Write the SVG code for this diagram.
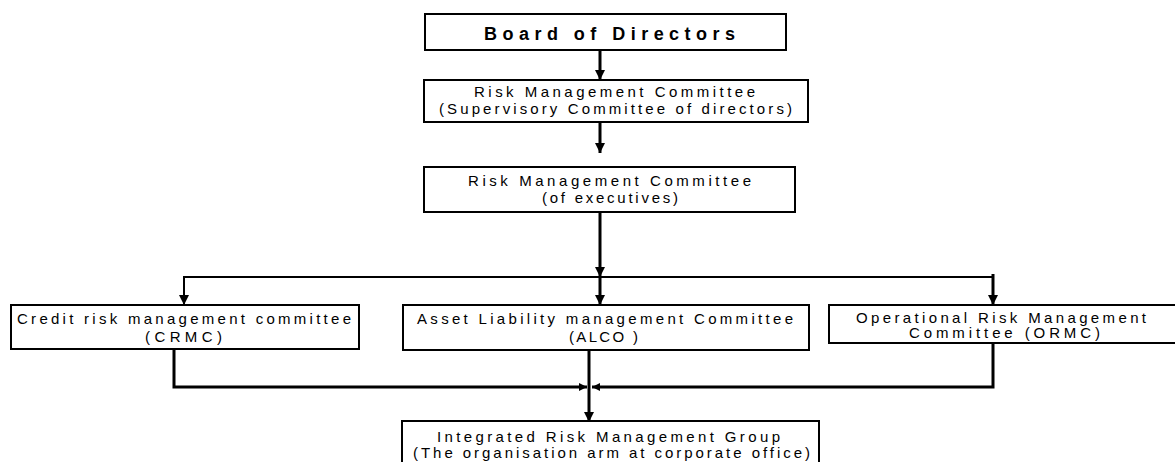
<svg xmlns="http://www.w3.org/2000/svg" width="1175" height="462" viewBox="0 0 1175 462">
<defs>
<style>
.box{fill:#fff;stroke:#000;stroke-width:2}
.t{font-family:"Liberation Sans",Arial,sans-serif;font-size:15px;fill:#000}
.b{font-family:"Liberation Sans",Arial,sans-serif;font-size:18px;font-weight:bold;fill:#000}
.c{fill:none;stroke:#000;stroke-width:3}
.c2{fill:none;stroke:#000;stroke-width:2}
</style>
<marker id="ah" viewBox="0 0 10 10" refX="10" refY="5" markerWidth="10" markerHeight="10" markerUnits="userSpaceOnUse" orient="auto">
<path d="M0,0 L10,5 L0,10 Z" fill="#000"/>
</marker>
<marker id="as" viewBox="0 0 10 10" refX="10" refY="5" markerWidth="9" markerHeight="8" markerUnits="userSpaceOnUse" orient="auto">
<path d="M0,0 L10,5 L0,10 Z" fill="#000"/>
</marker>
</defs>
<rect width="1175" height="462" fill="#fff"/>
<g id="connectors">
<line class="c" x1="600" y1="50" x2="600" y2="80" marker-end="url(#ah)"/>
<line class="c" x1="600" y1="122" x2="600" y2="153" marker-end="url(#ah)"/>
<line class="c" x1="600" y1="212" x2="600" y2="277" marker-end="url(#ah)"/>
<line class="c" x1="600" y1="277" x2="600" y2="305" marker-end="url(#ah)"/>
<line class="c2" x1="184" y1="277" x2="993" y2="277"/>
<line class="c2" x1="184" y1="276" x2="184" y2="305" marker-end="url(#ah)"/>
<line class="c" x1="993" y1="274" x2="993" y2="305" marker-end="url(#ah)"/>
<polyline class="c" points="174,349 174,387 587,387" marker-end="url(#as)"/>
<polyline class="c" points="993,343 993,387 592,387" marker-end="url(#as)"/>
<line class="c" x1="589" y1="350" x2="589" y2="422" marker-end="url(#ah)"/>
</g>
<g id="board">
<rect class="box" x="425" y="14" width="361" height="36"/>
<text class="b" x="484" y="40" textLength="251" lengthAdjust="spacing">Board of Directors</text>
</g>
<g id="rmc-directors">
<rect class="box" x="424" y="80" width="384" height="42"/>
<text class="t" x="474" y="97" textLength="281" lengthAdjust="spacing">Risk Management Committee</text>
<text class="t" x="439" y="114" textLength="353" lengthAdjust="spacing">(Supervisory Committee of directors)</text>
</g>
<g id="rmc-executives">
<rect class="box" x="424" y="167" width="371" height="45"/>
<text class="t" x="468" y="186" textLength="283" lengthAdjust="spacing">Risk Management Committee</text>
<text class="t" x="542" y="203" textLength="136" lengthAdjust="spacing">(of executives)</text>
</g>
<g id="crmc">
<rect class="box" x="11" y="305" width="348" height="44"/>
<text class="t" x="17" y="324" textLength="334" lengthAdjust="spacing">Credit risk management committee</text>
<text class="t" x="145" y="342" textLength="77" lengthAdjust="spacing">(CRMC)</text>
</g>
<g id="alco">
<rect class="box" x="403" y="305" width="406" height="45"/>
<text class="t" x="417" y="324" textLength="376" lengthAdjust="spacing">Asset Liability management Committee</text>
<text class="t" x="569" y="342" textLength="69" lengthAdjust="spacing">(ALCO )</text>
</g>
<g id="ormc">
<rect class="box" x="829" y="305" width="360" height="38"/>
<text class="t" x="856" y="323" textLength="290" lengthAdjust="spacing">Operational Risk Management</text>
<text class="t" x="909" y="338" textLength="191" lengthAdjust="spacing">Committee (ORMC)</text>
</g>
<g id="irmg">
<rect class="box" x="402" y="421" width="417" height="60"/>
<text class="t" x="437" y="442" textLength="343" lengthAdjust="spacing">Integrated Risk Management Group</text>
<text class="t" x="413" y="458" textLength="397" lengthAdjust="spacing">(The organisation arm at corporate office)</text>
</g>
</svg>
